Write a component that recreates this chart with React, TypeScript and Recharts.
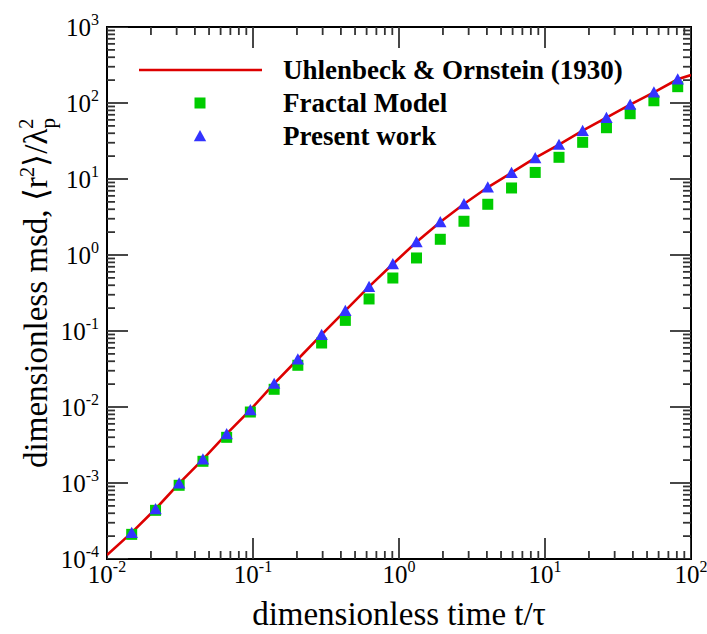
import React from 'react';
import { ScatterChart, Scatter, XAxis, YAxis, ReferenceArea, Legend } from 'recharts';

// ---- data ----
const timeValues = [0.01476, 0.0215, 0.0312, 0.0454, 0.066, 0.0959, 0.1396, 0.2028, 0.2951, 0.429, 0.6237, 0.9075, 1.318, 1.918, 2.786, 4.055, 5.9, 8.57, 12.47, 18.11, 26.36, 38.3, 55.7, 81.1];
const fractalMsd = [2.11e-4, 4.37e-4, 9.33e-4, 1.93e-3, 3.99e-3, 8.59e-3, 1.71e-2, 3.54e-2, 6.95e-2, 0.138, 0.264, 0.498, 0.914, 1.61, 2.78, 4.65, 7.62, 12.2, 19.3, 30.4, 47.3, 72.3, 107, 164];
const presentMsd = [2.22e-4, 4.55e-4, 9.9e-4, 2.05e-3, 4.42e-3, 9.14e-3, 2.03e-2, 4.25e-2, 8.94e-2, 0.185, 0.383, 0.762, 1.48, 2.72, 4.69, 7.78, 12.1, 18.9, 28.3, 43.2, 64.1, 95.1, 138, 205];
const uoTime = [0.01, 0.01476, 0.0215, 0.0312, 0.0454, 0.066, 0.0959, 0.1396, 0.2028, 0.2951, 0.429, 0.6237, 0.9075, 1.318, 1.918, 2.786, 4.055, 5.9, 8.57, 12.47, 18.11, 26.36, 38.3, 55.7, 81.1, 100];
const uoMsd = [1.13e-4, 2.22e-4, 4.55e-4, 9.9e-4, 2.05e-3, 4.42e-3, 9.14e-3, 2.03e-2, 4.25e-2, 8.94e-2, 0.185, 0.383, 0.762, 1.48, 2.72, 4.69, 7.78, 12.1, 18.9, 28.3, 43.2, 64.1, 95.1, 138, 205, 233];

const xTicks = [0.01, 0.1, 1, 10, 100];
const xTickExp = ['-2', '-1', '0', '1', '2'];
const yTicks = [1e-4, 1e-3, 1e-2, 1e-1, 1, 10, 100, 1000];
const yTickExp = ['-4', '-3', '-2', '-1', '0', '1', '2', '3'];
const seriesNames = ['Uhlenbeck & Ornstein (1930)', 'Fractal Model', 'Present work'];

const X_MIN = 0.01, X_MAX = 100, Y_MIN = 1e-4, Y_MAX = 1000;

const FONT = '"Liberation Serif", "Times New Roman", serif';
const RED = '#dd0000';
const GREEN = '#00cc00';
const BLUE = '#3333ff';
const MAJOR = 21;
const MINOR = 8;

const uoData = uoTime.map((x, i) => ({ x, y: uoMsd[i] }));
const fractalData = timeValues.map((x, i) => ({ x, y: fractalMsd[i] }));
const presentData = timeValues.map((x, i) => ({ x, y: presentMsd[i] }));

function logTickPositions(lo: number, hi: number) {
  const out: { v: number; len: number }[] = [];
  for (let e = lo; e <= hi; e++) {
    out.push({ v: Math.pow(10, e), len: MAJOR });
    if (e < hi) for (let m = 2; m <= 9; m++) out.push({ v: m * Math.pow(10, e), len: MINOR });
  }
  return out;
}
const xTickMarks = logTickPositions(-2, 2);
const yTickMarks = logTickPositions(-4, 3);
const bottomTicks = xTickMarks.map((t) => ({ x: t.v, y: Y_MIN, len: t.len }));
const topTicks = xTickMarks.map((t) => ({ x: t.v, y: Y_MAX, len: t.len }));
const leftTicks = yTickMarks.map((t) => ({ x: X_MIN, y: t.v, len: t.len }));
const rightTicks = yTickMarks.map((t) => ({ x: X_MAX, y: t.v, len: t.len }));

const tickStroke = '#333';
const mkTick = (dx: number, dy: number) => (p: any) => {
  const len = p.payload.len;
  return <line x1={p.cx} y1={p.cy} x2={p.cx + dx * len} y2={p.cy + dy * len} stroke={tickStroke} strokeWidth={1.8} />;
};

const SquareShape = (p: any) => (
  <rect x={p.cx - 5.5} y={p.cy - 5.5} width={11} height={11} fill={GREEN} />
);
const TriangleShape = (p: any) => (
  <polygon points={`${p.cx},${p.cy - 6} ${p.cx + 6.2},${p.cy + 5.2} ${p.cx - 6.2},${p.cy + 5.2}`} fill={BLUE} />
);
const NoShape = () => <g />;

const XTick = (p: any) => {
  const i = xTicks.indexOf(p.payload.value);
  return (
    <text x={p.x} y={p.y + 24} textAnchor="middle" fontFamily={FONT} fontSize={25} fill="#000">
      10<tspan dy={-11} fontSize={16}>{xTickExp[i]}</tspan>
    </text>
  );
};
const YTick = (p: any) => {
  let i = 0;
  let best = Infinity;
  yTicks.forEach((t, k) => {
    const d = Math.abs(Math.log10(t) - Math.log10(p.payload.value));
    if (d < best) { best = d; i = k; }
  });
  return (
    <text x={p.x - 8} y={p.y + 8.5} textAnchor="end" fontFamily={FONT} fontSize={25} fill="#000">
      10<tspan dy={-11} fontSize={16}>{yTickExp[i]}</tspan>
    </text>
  );
};

const XLabel = (props: any) => {
  const vb = props.viewBox || { x: 107, y: 559, width: 584, height: 75 };
  return (
    <text x={vb.x + vb.width / 2} y={vb.y + 66} textAnchor="middle" fontFamily={FONT} fontSize={33} fill="#000">
      dimensionless time t/τ
    </text>
  );
};
const YLabel = (props: any) => {
  const vb = props.viewBox || { x: 0, y: 27, width: 107, height: 532 };
  const cx = vb.x + 47;
  const cy = vb.y + vb.height / 2;
  return (
    <text x={cx} y={cy} transform={`rotate(-90, ${cx}, ${cy})`} textAnchor="middle" fontFamily={FONT} fontSize={33} fill="#000">
      dimensionless msd, ⟨r<tspan dy={-13} fontSize={21}>2</tspan>
      <tspan dy={13}>⟩/λ</tspan>
      <tspan dy={8} fontSize={21}>p</tspan>
      <tspan dx={-11} dy={-22} fontSize={21}>2</tspan>
    </text>
  );
};

const LegendBox = () => (
  <svg width={520} height={110} style={{ display: 'block' }}>
    <line x1={9} y1={20} x2={132} y2={20} stroke={RED} strokeWidth={2.6} />
    <rect x={64.5} y={47.5} width={11} height={11} fill={GREEN} />
    <polygon points={`70,80 76.2,91.2 63.8,91.2`} fill={BLUE} />
    {seriesNames.map((n, i) => (
      <text key={n} x={153} y={29 + i * 33} fontFamily={FONT} fontWeight="bold" fontSize={27} fill="#000">
        {n}
      </text>
    ))}
  </svg>
);

export default function App() {
  return (
    <div style={{ position: 'absolute', left: 0, top: 0, width: 707, height: 634, background: '#fff' }}>
      <ScatterChart width={707} height={634} margin={{ top: 27, right: 16, bottom: 0, left: 0 }}>
        <XAxis
          dataKey="x"
          type="number"
          scale="log"
          domain={[X_MIN, X_MAX]}
          allowDataOverflow
          ticks={xTicks}
          tick={XTick}
          tickLine={false}
          axisLine={false}
          tickSize={0}
          tickMargin={0}
          height={75}
          interval={0}
          label={XLabel}
        />
        <YAxis
          dataKey="y"
          type="number"
          scale="log"
          domain={[Y_MIN, Y_MAX]}
          allowDataOverflow
          ticks={yTicks}
          tick={YTick}
          tickLine={false}
          axisLine={false}
          tickSize={0}
          tickMargin={0}
          width={107}
          interval={0}
          label={YLabel}
        />
        <ReferenceArea x1={X_MIN} x2={X_MAX} y1={Y_MIN} y2={Y_MAX} fill="none" stroke="#000" strokeWidth={2} />
        <Scatter data={bottomTicks} shape={mkTick(0, -1)} isAnimationActive={false} />
        <Scatter data={topTicks} shape={mkTick(0, 1)} isAnimationActive={false} />
        <Scatter data={leftTicks} shape={mkTick(1, 0)} isAnimationActive={false} />
        <Scatter data={rightTicks} shape={mkTick(-1, 0)} isAnimationActive={false} />
        <Scatter
          name={seriesNames[0]}
          data={uoData}
          line={{ stroke: RED, strokeWidth: 2.6 }}
          lineType="joint"
          shape={NoShape}
          isAnimationActive={false}
        />
        <Scatter name={seriesNames[1]} data={fractalData} shape={SquareShape} isAnimationActive={false} />
        <Scatter name={seriesNames[2]} data={presentData} shape={TriangleShape} isAnimationActive={false} />
        <Legend
          layout="vertical"
          align="center"
          verticalAlign="middle"
          wrapperStyle={{ left: 130, top: 50, width: 520, height: 110 }}
          content={LegendBox}
        />
      </ScatterChart>
    </div>
  );
}
